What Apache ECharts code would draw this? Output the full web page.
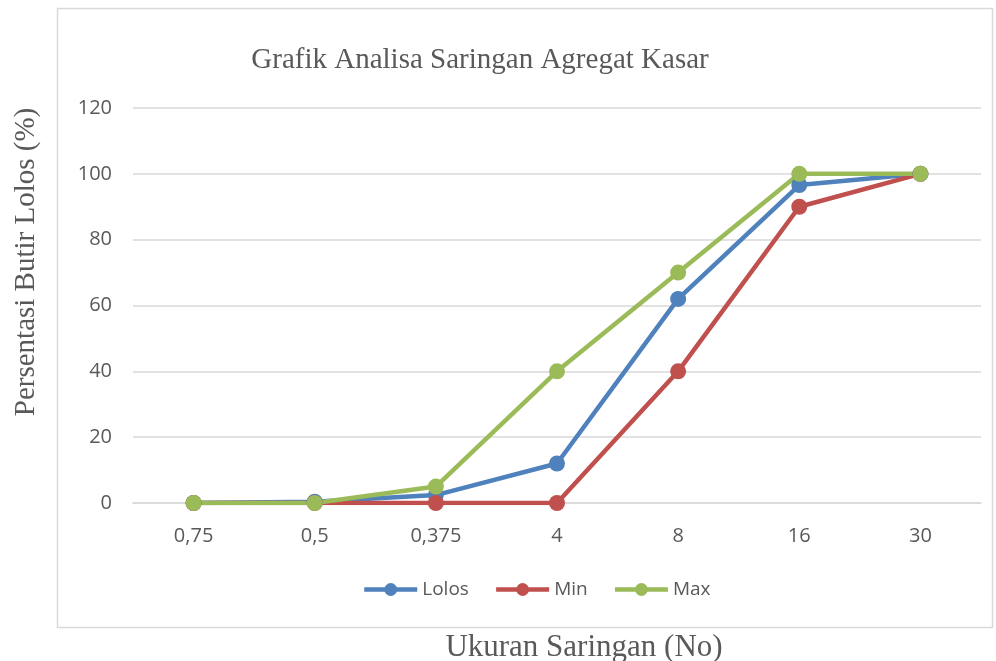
<!DOCTYPE html>
<html><head><meta charset="utf-8">
<script src="https://cdn.jsdelivr.net/npm/echarts@6/dist/echarts.min.js"></script>
<style>html,body{margin:0;padding:0;background:#fff}#c{width:996px;height:661px}</style>
</head><body><div id="c"></div>
<script>
const categories = ['0,75','0,5','0,375','4','8','16','30'];
const lolos = [0, 0.4, 2.4, 12, 62, 96.6, 100];
const minVals = [0, 0, 0, 0, 40, 90, 100];
const maxVals = [0, 0, 5, 40, 70, 100, 100];
const titleText = 'Grafik Analisa Saringan Agregat Kasar';
const yName = 'Persentasi Butir Lolos (%)';
const xName = 'Ukuran Saringan (No)';

const chart = echarts.init(document.getElementById('c'));
function mk(name, data, color) {
  return {
    name, type: 'line', data,
    symbol: 'circle', symbolSize: 16,
    lineStyle: { width: 4.5, color },
    itemStyle: { color },
    emphasis: { disabled: true }
  };
}
chart.setOption({
  animation: false,
  title: {
    text: titleText, left: 475, top: 41, textAlign: 'center',
    textStyle: { fontFamily: 'Liberation Serif', fontWeight: 'normal', fontSize: 29, color: '#595959' }
  },
  graphic: [
    { type: 'rect', shape: { x: 57.5, y: 8.5, width: 935, height: 619 }, style: { fill: 'none', stroke: '#d9d9d9', lineWidth: 1.5 }, z: -1 },
    { type: 'text', x: 26, y: 262, rotation: Math.PI / 2, style: { text: yName, fontFamily: 'Liberation Serif', fontSize: 29, fill: '#595959', align: 'center', verticalAlign: 'middle' } },
    { type: 'text', x: 584, y: 648, style: { text: xName, fontFamily: 'Liberation Serif', fontSize: 31, fill: '#595959', align: 'center', verticalAlign: 'middle' } }
  ],
  legend: {
    data: ['Lolos', 'Min', 'Max'], left: 357, top: 575,
    itemWidth: 53, itemHeight: 16, itemGap: 25,
    lineStyle: { width: 4.5 },
    textStyle: { fontFamily: 'Open Sans', fontSize: 19, color: '#595959' }
  },
  grid: { left: 133, right: 15, top: 108, bottom: 158 },
  xAxis: {
    type: 'category', data: categories, boundaryGap: true,
    axisLine: { lineStyle: { color: '#d9d9d9', width: 1.5 } },
    axisTick: { show: false },
    axisLabel: { fontFamily: 'Open Sans', fontSize: 20, color: '#595959', margin: 23 }
  },
  yAxis: {
    type: 'value', min: 0, max: 120, interval: 20,
    axisLine: { show: false }, axisTick: { show: false },
    splitLine: { lineStyle: { color: '#d9d9d9', width: 1.5 } },
    axisLabel: { fontFamily: 'Open Sans', fontSize: 20, color: '#595959', margin: 21 }
  },
  series: [
    mk('Lolos', lolos, '#4f81bd'),
    mk('Min', minVals, '#c0504d'),
    mk('Max', maxVals, '#9bbb59')
  ]
});
</script></body></html>
